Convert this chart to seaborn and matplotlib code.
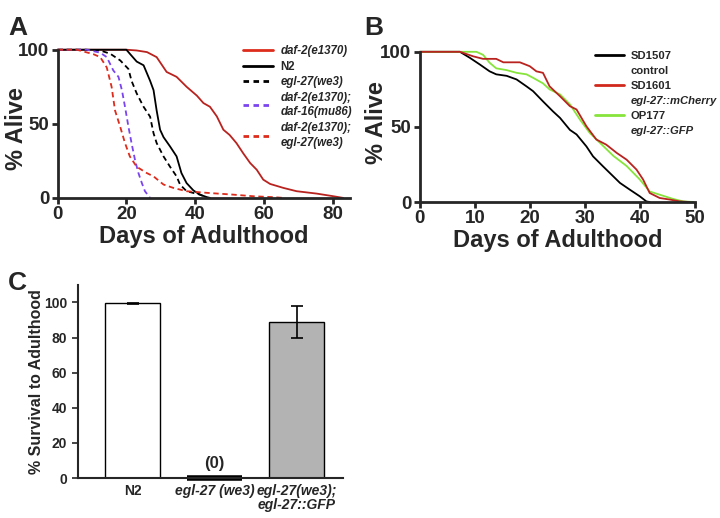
"""Lifespan curves (A, B) and survival to adulthood (C)."""
import matplotlib
matplotlib.use('Agg')
import matplotlib.pyplot as plt
import pandas as pd
import seaborn as sns
from matplotlib.lines import Line2D

sns.set_style('ticks')
plt.rcParams['font.family'] = ['Liberation Sans', 'DejaVu Sans']
plt.rcParams['font.weight'] = 'bold'
# ======================================================================================================================
# Data
# ======================================================================================================================
# Panel A
DAF2_DAYS = [0, 20, 23, 26, 28.8, 31.7, 34.6, 37.5, 40.5, 42.4, 44.3, 46.3, 48.2, 50, 52, 54, 56, 57.9, 59.8, 61.8,
             65.7, 69.5, 75.3, 80.2, 83]
DAF2_ALIVE = [100, 100, 99.5, 98.4, 95, 85, 81.7, 75, 69, 64, 61.5, 55, 46, 42.5, 37, 30, 23.5, 19, 12.3, 9.4,
              6.7, 4.5, 2.9, 1.1, 0]
N2_DAYS = [0, 20, 21, 23, 25, 26.9, 27.9, 28.8, 29.8, 30.8, 32.7, 34.6, 36, 37.5, 39.5, 41.4, 43.4, 44.3]
N2_ALIVE = [100, 100, 97.3, 92, 89.5, 79, 72.7, 59, 46, 41, 34.7, 28, 16.8, 10, 5, 2.2, 0.5, 0]
EGL27_DAYS = [0, 8, 12.4, 15.3, 18.2, 20.6, 21.5, 23, 25, 26.9, 27.9, 28.8, 30.8, 32.7, 34.6, 35.6, 37.5, 41.4, 43.4]
EGL27_ALIVE = [100, 100, 99.5, 97.3, 92.8, 87, 79, 70.5, 61.5, 54.8, 43.6, 37, 28, 21, 14.5, 9, 4.5, 2.2, 0]
DAF16_DAYS = [0, 8.5, 12.4, 14.3, 16.2, 17.7, 18.7, 19.6, 20.6, 21.5, 22.5, 23.5, 24.5, 25.4, 26.9]
DAF16_ALIVE = [100, 100, 98, 95, 86, 81.7, 72.7, 61.5, 48, 37, 25.7, 16.8, 10, 4.5, 0]
DAF2_EGL27_DAYS = [0, 5.6, 10.4, 12.4, 14.3, 15.7, 16.7, 18.2, 19.6, 21, 23, 25.9, 27.9, 30.8, 33.7, 37.5, 43.4, 51,
                   56.9, 62.7, 65.7]
DAF2_EGL27_ALIVE = [100, 100, 97, 95, 88, 75, 59, 48, 37, 28, 21, 16.8, 14.5, 9, 6.7, 4.5, 3.4, 2.2, 1.1, 0.5, 0]

# Panel B
SD1507_DAYS = [0, 7.3, 9.1, 10.9, 12.7, 13.9, 15.8, 17.6, 19.4, 20.6, 22.4, 24.2, 25.5, 27.3, 28.5, 30.3, 31.5, 33.3,
               35.2, 36.4, 38.2, 40, 41.2, 41.8]
SD1507_ALIVE = [100, 100, 96, 91.6, 87, 85, 84, 81.6, 77, 73.8, 67, 60.4, 56, 48, 45, 37, 30.4, 23.8, 17, 12.7, 8.2,
                3.8, 0.4, 0]
SD1601_DAYS = [0, 7.3, 9.7, 11.5, 13.9, 15.2, 18.2, 20, 21.2, 22.4, 23.6, 25.5, 27.3, 28.5, 30.3, 32.1, 33.9, 35.8,
               37.6, 39.4, 40.6, 41.8, 43.6, 45.5, 47.3, 49]
SD1601_ALIVE = [100, 100, 97, 95.3, 95.3, 93, 93, 90.4, 87, 86, 77, 70.4, 63.8, 61.6, 50.4, 41.6, 38.2, 32.7, 28.2,
                21.6, 15, 6, 2.7, 1.6, 0.4, 0]
OP177_DAYS = [0, 10.3, 11.5, 12.7, 13.9, 15.8, 17.6, 19.4, 20.6, 22.4, 23.6, 25.5, 27.3, 29.1, 30.9, 32.7, 35.2, 37.6,
              40, 41.8, 43.6, 46.1, 47.9, 49.7]
OP177_ALIVE = [100, 100, 98, 92.7, 89, 87.8, 86, 85, 82.7, 79, 75, 71.6, 65, 55, 46, 39.6, 30.7, 24, 15, 7, 4.9, 2,
               0.4, 0]

# Panel C
STRAINS = ['N2', 'egl-27 (we3)', 'egl-27(we3);\negl-27::GFP']
SURVIVAL = [99.5, 0, 89]
SURVIVAL_ERR = [0.4, 0, 9]
BAR_COLORS = ['white', 'black', '#b3b3b3']
# ======================================================================================================================
# Figure
# ======================================================================================================================
fig = plt.figure(figsize=(7.2, 5.18), dpi=100)
ax_a = fig.add_axes([0.080, 0.618, 0.406, 0.286])
ax_b = fig.add_axes([0.583, 0.610, 0.382, 0.290])
ax_c = fig.add_axes([0.108, 0.077, 0.368, 0.373])

RED = '#b8231f'
RED_LIGHT = '#dd2c1c'
PURPLE = '#7a44ee'
GREEN = '#86e43a'


def style_survival_axis(ax, xmax, xticks, label_x, label_y):
    ax.set_xlim(0, xmax)
    ax.set_ylim(0, 100)
    ax.set_xticks(xticks)
    ax.set_yticks([0, 50, 100])
    ax.tick_params(labelsize=13.5, width=2, length=4, pad=2)
    for lab in ax.get_xticklabels() + ax.get_yticklabels():
        lab.set_fontweight('bold')
    sns.despine(ax=ax)
    for side in ['left', 'bottom']:
        ax.spines[side].set_linewidth(2)
    ax.set_xlabel('Days of Adulthood', fontsize=17, fontweight='bold', labelpad=1)
    ax.set_ylabel('% Alive', fontsize=17, fontweight='bold')
    ax.yaxis.set_label_coords(label_x, label_y)


# Panel A
curves_a = [
    (DAF2_DAYS, DAF2_ALIVE, RED, '-'),
    (N2_DAYS, N2_ALIVE, 'black', '-'),
    (EGL27_DAYS, EGL27_ALIVE, 'black', (0, (3, 2))),
    (DAF16_DAYS, DAF16_ALIVE, PURPLE, (0, (3, 2))),
    (DAF2_EGL27_DAYS, DAF2_EGL27_ALIVE, RED_LIGHT, (0, (3, 2))),
]
for days, alive, color, ls in curves_a:
    sns.lineplot(x=days, y=alive, ax=ax_a, color=color, linestyle=ls, linewidth=1.3, sort=False, clip_on=False)
style_survival_axis(ax_a, 85, [0, 20, 40, 60, 80], -0.10, 0.47)

handles_a = [
    Line2D([], [], color=RED_LIGHT, lw=2),
    Line2D([], [], color='black', lw=2),
    Line2D([], [], color='black', lw=2, ls=(0, (2, 1.6))),
    Line2D([], [], color=PURPLE, lw=2, ls=(0, (2, 1.6))),
    Line2D([], [], color=RED_LIGHT, lw=2, ls=(0, (2, 1.6))),
]
labels_a = ['daf-2(e1370)', 'N2', 'egl-27(we3)', 'daf-2(e1370);\ndaf-16(mu86)', 'daf-2(e1370);\negl-27(we3)']
leg_a = ax_a.legend(handles_a, labels_a, loc='upper left', bbox_to_anchor=(0.60, 1.10), frameon=False,
                    fontsize=8.3, handlelength=2.6, handletextpad=0.6, labelspacing=0.3)
for i, txt in enumerate(leg_a.get_texts()):
    txt.set_fontweight('bold')
    txt.set_fontstyle('normal' if i == 1 else 'italic')
    txt.set_linespacing(1.3)

# Panel B
curves_b = [
    (SD1507_DAYS, SD1507_ALIVE, 'black'),
    (OP177_DAYS, OP177_ALIVE, GREEN),
    (SD1601_DAYS, SD1601_ALIVE, RED),
]
for days, alive, color in curves_b:
    sns.lineplot(x=days, y=alive, ax=ax_b, color=color, linewidth=1.3, sort=False, clip_on=False)
style_survival_axis(ax_b, 50, [0, 10, 20, 30, 40, 50], -0.115, 0.53)

blank = Line2D([], [], color='none')
handles_b = [Line2D([], [], color='black', lw=2), blank,
             Line2D([], [], color='#d0281c', lw=2), blank,
             Line2D([], [], color=GREEN, lw=2), blank]
labels_b = ['SD1507', 'control', 'SD1601', 'egl-27::mCherry', 'OP177', 'egl-27::GFP']
leg_b = ax_b.legend(handles_b, labels_b, loc='upper left', bbox_to_anchor=(0.60, 1.075), frameon=False,
                    fontsize=8.1, handlelength=2.6, handletextpad=0.6, labelspacing=0.45)
for i, txt in enumerate(leg_b.get_texts()):
    txt.set_fontweight('bold')
    txt.set_fontstyle('italic' if labels_b[i].startswith('egl') else 'normal')

# Panel C
bar_df = pd.DataFrame({'strain': STRAINS, 'survival': SURVIVAL})
sns.barplot(data=bar_df, x='strain', y='survival', hue='strain', palette=BAR_COLORS, legend=False,
            edgecolor='black', linewidth=1.0, width=0.67, ax=ax_c)
for patch, val in zip(ax_c.patches, SURVIVAL):
    if val == 0:
        patch.set_linewidth(4)
        patch.set_clip_on(False)
ax_c.errorbar([0, 2], [SURVIVAL[0], SURVIVAL[2]], yerr=[SURVIVAL_ERR[0], SURVIVAL_ERR[2]], fmt='none',
              ecolor='black', elinewidth=1.2, capsize=4, capthick=1.2)
ax_c.text(1, 4, '(0)', ha='center', va='bottom', fontsize=12, fontweight='bold')
ax_c.set_xlim(-0.67, 2.56)
ax_c.set_ylim(0, 110)
ax_c.set_yticks([0, 20, 40, 60, 80, 100])
sns.despine(ax=ax_c)
for side in ['left', 'bottom']:
    ax_c.spines[side].set_linewidth(1.5)
ax_c.tick_params(axis='y', labelsize=10, width=1.2, length=4)
ax_c.tick_params(axis='x', length=0, labelsize=10, pad=4)
for lab in ax_c.get_yticklabels():
    lab.set_fontweight('bold')
for i, lab in enumerate(ax_c.get_xticklabels()):
    lab.set_fontweight('bold')
    lab.set_fontstyle('normal' if i == 0 else 'italic')
    lab.set_linespacing(1.05)
ax_c.set_xlabel('')
ax_c.set_ylabel('% Survival to Adulthood', fontsize=11.5, fontweight='bold', labelpad=0)

# Panel letters
for letter, x, y in [('A', 0.011, 0.933), ('B', 0.506, 0.933), ('C', 0.011, 0.44)]:
    fig.text(x, y, letter, fontsize=19, fontweight='bold', ha='left', va='baseline')

fig.savefig('out.png', dpi=100)
